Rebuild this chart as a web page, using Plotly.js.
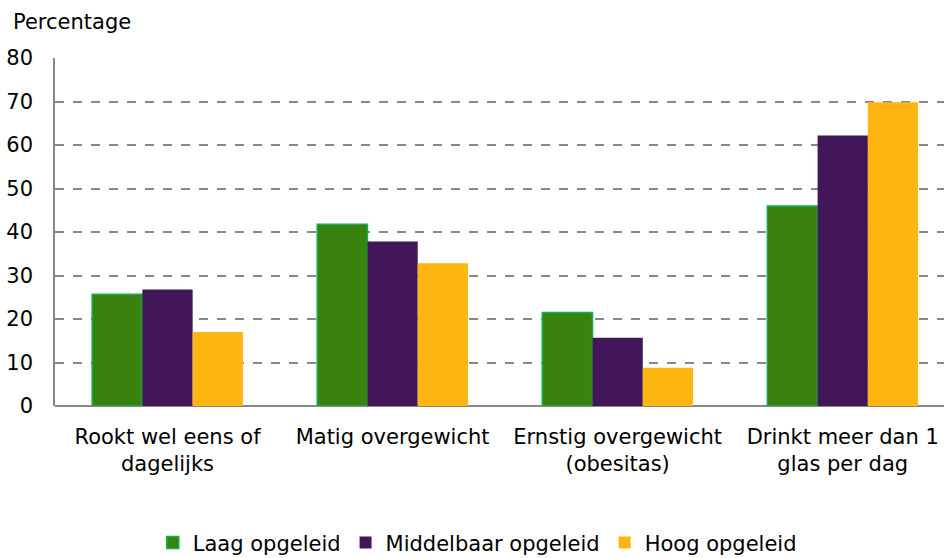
<!DOCTYPE html>
<html>
<head>
<meta charset="utf-8">
<script src="https://cdn.plot.ly/plotly-3.0.1.min.js"></script>
<style>
  html, body { margin: 0; padding: 0; background: #fff; }
  #chart { width: 944px; height: 558px; }
</style>
</head>
<body>
<div id="chart"></div>
<script>
const categories = ['Rookt wel eens of<br>dagelijks', 'Matig overgewicht', 'Ernstig overgewicht<br>(obesitas)', 'Drinkt meer dan 1<br>glas per dag'];
const laag = [25.7, 41.8, 21.5, 46];
const middelbaar = [26.8, 37.8, 15.7, 62.2];
const hoog = [17, 32.8, 8.8, 69.8];

const font = {family: 'DejaVu Sans, Verdana, sans-serif', size: 21, color: '#000'};

const data = [
  {
    x: categories, y: laag, type: 'bar', name: 'Laag opgeleid',
    marker: {color: '#3a820f', line: {color: '#12b050', width: 1.5}},
    hoverinfo: 'y'
  },
  {
    x: categories, y: middelbaar, type: 'bar', name: 'Middelbaar opgeleid',
    marker: {color: '#42175a', line: {color: '#42175a', width: 0}},
    hoverinfo: 'y'
  },
  {
    x: categories, y: hoog, type: 'bar', name: 'Hoog opgeleid',
    marker: {color: '#ffb612', line: {color: '#ffb612', width: 0}},
    hoverinfo: 'y'
  }
];

const layout = {
  width: 944,
  height: 558,
  margin: {l: 55, r: 0, t: 58, b: 152, autoexpand: false},
  font: font,
  showlegend: true,
  barmode: 'group',
  bargap: 0.33,
  bargroupgap: 0,
  plot_bgcolor: '#fff',
  paper_bgcolor: '#fff',
  xaxis: {
    type: 'category',
    range: [-0.5, 3.45],
    showgrid: false,
    showline: false,
    zeroline: false,
    ticks: '',
    ticklabelstandoff: 16,
    tickfont: font,
    automargin: false
  },
  yaxis: {
    range: [0, 80],
    dtick: 10,
    showgrid: true,
    gridcolor: '#888',
    griddash: 'dash',
    gridwidth: 1.5,
    showline: true,
    linecolor: '#888',
    linewidth: 1.5,
    zeroline: true,
    zerolinecolor: '#888',
    zerolinewidth: 2,
    ticks: '',
    ticklabelstandoff: 16,
    tickfont: font,
    automargin: false
  },
  legend: {
    orientation: 'h',
    x: 0.475,
    xanchor: 'center',
    y: -0.452,
    yanchor: 'bottom',
    font: font,
    itemwidth: 30,
    tracegroupgap: 0
  },
  annotations: [{
    text: 'Percentage',
    xref: 'paper', yref: 'paper',
    x: -0.049, y: 1.103,
    xanchor: 'left', yanchor: 'middle',
    showarrow: false,
    font: font
  }]
};

Plotly.newPlot('chart', data, layout, {displayModeBar: false});
</script>
</body>
</html>
